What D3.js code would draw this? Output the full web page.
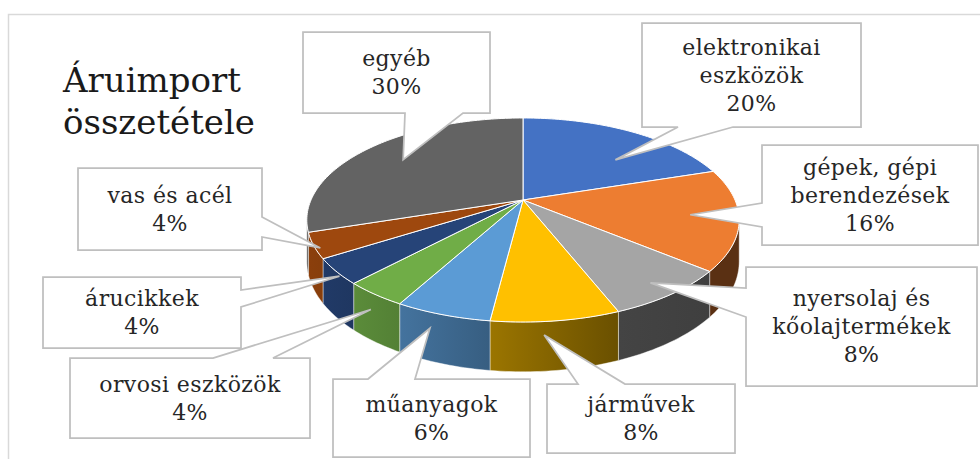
<!DOCTYPE html>
<html>
<head>
<meta charset="utf-8">
<script src="https://cdn.jsdelivr.net/npm/d3@7"></script>
<style>
body { margin: 0; background: #fff; }
svg { display: block; }
text { font-family: "DejaVu Serif", serif; }
</style>
</head>
<body>
<svg id="chart" width="980" height="459"></svg>
<script>
// data, clockwise from 12 o'clock
const categories = ["elektronikai eszközök", "gépek, gépi berendezések", "nyersolaj és kőolajtermékek",
    "járművek", "műanyagok", "orvosi eszközök", "árucikkek", "vas és acél", "egyéb"];
const values = [20, 16, 8, 8, 6, 4, 4, 4, 30];
const labelLines = [["elektronikai", "eszközök"], ["gépek, gépi", "berendezések"], ["nyersolaj és", "kőolajtermékek"],
    ["járművek"], ["műanyagok"], ["orvosi eszközök"], ["árucikkek"], ["vas és acél"], ["egyéb"]];
const colors = ["#4472C4", "#ED7D31", "#A5A5A5", "#FFC000", "#5B9BD5", "#70AD47", "#264478", "#9E480E", "#636363"];
const titleLines = ["Áruimport", "összetétele"];

// callout layout: box x, y, w, h, edge of the pointer, pointer base range
// and where the tip sits on the slice (fraction of slice angle, radius, depth)
const callouts = [
    {box: [642, 23, 219, 104], edge: "bottom", base: [678, 733], tip: [0.65, 0.65, 0]},
    {box: [762, 145, 216, 100], edge: "left", base: [203, 227], tip: [0.5, 0.78, 0]},
    {box: [746, 267, 231, 119], edge: "left", base: [288, 317], tip: [0.52, 0.89, 0]},
    {box: [547, 384, 188, 69], edge: "top", base: [578, 625], tip: [0.59, 1, 0.27]},
    {box: [333, 379, 197, 78], edge: "top", base: [368, 415], tip: [0.64, 1, 0.33]},
    {box: [70, 358, 240, 80], edge: "top", base: [213, 273], tip: [0.59, 1, 0.36]},
    {box: [43, 277, 198, 71], edge: "right", base: [290, 307], tip: [0.4, 1, 0.05]},
    {box: [78, 168, 184, 82], edge: "right", base: [217, 237], tip: [0.37, 0.98, 0]},
    {box: [303, 32, 187, 81], edge: "bottom", base: [405, 463], tip: [0.5, 0.76, 0]}
];

const svg = d3.select("#chart");

// pie geometry (perspective tilted disc)
const cx = 523, cy = 200, rx = 212, ry = 98.1;
const persp = -0.196;
const depth = 40;

function project(theta, r, h) {
    const u = r * Math.sin(theta);
    const v = -r * Math.cos(theta);
    const den = 1 + persp * v;
    return [cx + rx * u / den, cy + ry * v / den + h * depth / den];
}

function arcPoints(a0, a1, r, h) {
    const n = Math.max(2, Math.ceil((a1 - a0) / 0.02));
    return d3.range(n + 1).map(i => project(a0 + (a1 - a0) * i / n, r, h));
}

// shade factor for the outer wall, lighter on the left
function shade(x) {
    return Math.max(0.38, Math.min(0.9, 0.88 - (x - 308) * 0.0015));
}
function darken(c, f) {
    const k = d3.rgb(c);
    return d3.rgb(k.r * f, k.g * f, k.b * f).formatHex();
}

const arcs = d3.pie().sort(null).value(d => d)(values);
const line = d3.line();

svg.append("rect")
    .attr("width", 980).attr("height", 459).attr("fill", "#fff");

svg.append("rect")
    .attr("x", 8.5).attr("y", 14.5)
    .attr("width", 1000).attr("height", 500)
    .attr("fill", "none")
    .attr("stroke", "#d9d9d9")
    .attr("stroke-width", 1.5);

// outer wall
const wallMin = Math.acos(persp);
const wallMax = 2 * Math.PI - wallMin;
const defs = svg.append("defs");
const walls = svg.append("g");

arcs.forEach((d, i) => {
    const a0 = Math.max(d.startAngle, wallMin);
    const a1 = Math.min(d.endAngle, wallMax);
    if (a0 >= a1) return;
    const top = arcPoints(a0, a1, 1, 0);
    const bot = arcPoints(a0, a1, 1, 1).reverse();
    const pts = top.concat(bot);
    const xs = d3.extent(pts, p => p[0]);
    const gid = "wall" + i;
    const g = defs.append("linearGradient").attr("id", gid)
        .attr("gradientUnits", "userSpaceOnUse")
        .attr("x1", xs[0]).attr("x2", xs[1]).attr("y1", 0).attr("y2", 0);
    g.append("stop").attr("offset", 0).attr("stop-color", darken(colors[i], shade(xs[0])));
    g.append("stop").attr("offset", 1).attr("stop-color", darken(colors[i], shade(xs[1])));
    walls.append("path")
        .attr("d", line(pts) + "Z")
        .attr("fill", `url(#${gid})`)
        .attr("stroke", "rgba(255,255,255,0.55)")
        .attr("stroke-width", 0.8);
});

// top faces
svg.append("g").selectAll("path")
    .data(arcs)
    .join("path")
    .attr("d", d => line([[cx, cy]].concat(arcPoints(d.startAngle, d.endAngle, 1, 0))) + "Z")
    .attr("fill", (d, i) => colors[i])
    .attr("stroke", "#fff")
    .attr("stroke-width", 1)
    .attr("stroke-linejoin", "round");

// title
svg.append("text")
    .attr("x", 63).attr("y", 92)
    .attr("font-size", 34)
    .attr("fill", "#1a1a1a")
    .selectAll("tspan")
    .data(titleLines)
    .join("tspan")
    .attr("x", 63)
    .attr("dy", (d, i) => i === 0 ? 0 : 42)
    .text(d => d);

// callouts
function calloutPath(c, tip) {
    const [x, y, w, h] = c.box;
    const [b0, b1] = c.base;
    const p = [[x, y]];
    if (c.edge === "top") p.push([b0, y], tip, [b1, y]);
    p.push([x + w, y]);
    if (c.edge === "right") p.push([x + w, b0], tip, [x + w, b1]);
    p.push([x + w, y + h]);
    if (c.edge === "bottom") p.push([b1, y + h], tip, [b0, y + h]);
    p.push([x, y + h]);
    if (c.edge === "left") p.push([x, b1], tip, [x, b0]);
    return line(p) + "Z";
}

const labels = svg.append("g");

arcs.forEach((d, i) => {
    const c = callouts[i];
    const [fa, r, h] = c.tip;
    const tip = project(d.startAngle + (d.endAngle - d.startAngle) * fa, r, h);
    labels.append("path")
        .attr("d", calloutPath(c, tip))
        .attr("fill", "#fff")
        .attr("stroke", "#bfbfbf")
        .attr("stroke-width", 1.75)
        .attr("stroke-linejoin", "miter");

    const lines = labelLines[i].concat([`${values[i]}%`]);
    const [x, y, w, bh] = c.box;
    const lh = 28;
    const first = y + bh / 2 - (lines.length - 1) * lh / 2 + 7.5;
    labels.append("text")
        .attr("text-anchor", "middle")
        .attr("font-size", 22)
        .attr("letter-spacing", 0.4)
        .attr("fill", "#262626")
        .selectAll("tspan")
        .data(lines)
        .join("tspan")
        .attr("x", x + w / 2)
        .attr("y", (t, j) => first + j * lh)
        .text(t => t);
});
</script>
</body>
</html>
